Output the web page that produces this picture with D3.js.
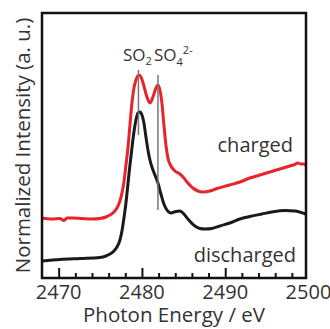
<!DOCTYPE html>
<html>
<head>
<meta charset="utf-8">
<script src="https://cdn.jsdelivr.net/npm/d3@7"></script>
<style>
  html, body { margin: 0; padding: 0; background: #fff; }
  text { font-family: "Open Sans", "Liberation Sans", sans-serif; fill: #333; }
</style>
</head>
<body>
<div id="chart"></div>
<script>
// Charged spectrum (photon energy eV, normalized intensity with offset)
const chargedEnergy = [2468.0, 2469.2, 2470.16, 2470.64, 2471.0, 2471.6, 2472.8, 2474.0, 2474.96, 2475.68,
  2476.16, 2476.64, 2477.0, 2477.36, 2477.6, 2477.84, 2478.08, 2478.32, 2478.56, 2478.8,
  2479.04, 2479.28, 2479.64, 2479.88, 2480.24, 2480.6, 2480.96, 2481.32, 2481.68, 2481.92,
  2482.16, 2482.4, 2482.64, 2482.88, 2483.12, 2483.48, 2483.96, 2484.56, 2485.04, 2485.52,
  2486.12, 2486.72, 2487.32, 2488.16, 2489.0, 2490.56, 2491.76, 2492.96, 2494.16, 2495.36,
  2496.56, 2497.76, 2498.36, 2498.72, 2499.08, 2499.44, 2499.68];
const chargedIntensity = [0.60, 0.59, 0.595, 0.575, 0.60, 0.60, 0.595, 0.59, 0.595, 0.61,
  0.63, 0.66, 0.70, 0.77, 0.85, 0.96, 1.13, 1.30, 1.53, 1.75,
  1.90, 1.98, 2.03, 2.01, 1.92, 1.81, 1.75, 1.81, 1.90, 1.93,
  1.88, 1.75, 1.53, 1.33, 1.20, 1.12, 1.07, 1.04, 1.00, 0.95,
  0.90, 0.87, 0.86, 0.87, 0.895, 0.93, 0.96, 1.00, 1.03, 1.06,
  1.09, 1.12, 1.135, 1.15, 1.14, 1.14, 1.125];

// Discharged spectrum
const dischargedEnergy = [2468.0, 2470.16, 2472.56, 2474.96, 2475.68, 2476.16, 2476.64, 2477.0, 2477.36, 2477.6,
  2477.84, 2478.08, 2478.32, 2478.56, 2478.8, 2479.04, 2479.28, 2479.52, 2479.76, 2480.0,
  2480.24, 2480.48, 2480.72, 2480.96, 2481.2, 2481.56, 2481.92, 2482.28, 2482.64, 2483.0,
  2483.48, 2484.08, 2484.56, 2485.04, 2485.52, 2486.36, 2486.96, 2487.56, 2488.4, 2489.36,
  2490.56, 2491.76, 2492.96, 2494.4, 2495.6, 2497.16, 2498.36, 2499.68];
const dischargedIntensity = [0.17, 0.185, 0.195, 0.205, 0.22, 0.24, 0.27, 0.31, 0.38, 0.47,
  0.60, 0.75, 0.94, 1.13, 1.30, 1.46, 1.58, 1.65, 1.66, 1.63,
  1.55, 1.41, 1.28, 1.18, 1.11, 1.03, 0.95, 0.84, 0.74, 0.68,
  0.65, 0.665, 0.67, 0.64, 0.59, 0.52, 0.495, 0.49, 0.495, 0.52,
  0.55, 0.59, 0.615, 0.64, 0.66, 0.675, 0.67, 0.64];

// Peak markers: SO2 and SO4 2-
const markerEnergy = [2479.58, 2481.92];
const markerTop = [2.08, 2.03];
const markerBottom = [1.43, 0.68];

const xTicksMajor = [2470, 2480, 2490, 2500];
const xTicksMinor = [2472, 2474, 2476, 2478, 2482, 2484, 2486, 2488, 2492, 2494, 2496, 2498];

const W = 330, H = 329;
const margin = { left: 42, right: 306, top: 13, bottom: 278 };

const svg = d3.select("#chart").append("svg")
    .attr("width", W)
    .attr("height", H);

const x = d3.scaleLinear().domain([2468, 2499.7]).range([margin.left, margin.right]);
const y = d3.scaleLinear().domain([0, 2.65]).range([margin.bottom, margin.top]);

const line = d3.line()
    .x(d => x(d[0]))
    .y(d => y(d[1]))
    .curve(d3.curveMonotoneX);

const charged = chargedEnergy.map((e, i) => [e, chargedIntensity[i]]);
const discharged = dischargedEnergy.map((e, i) => [e, dischargedIntensity[i]]);

svg.append("path")
    .datum(charged)
    .attr("fill", "none")
    .attr("stroke", "#e8232b")
    .attr("stroke-width", 3)
    .attr("d", line);

svg.append("path")
    .datum(discharged)
    .attr("fill", "none")
    .attr("stroke", "#1a1a1a")
    .attr("stroke-width", 3)
    .attr("d", line);

// gray marker lines
svg.selectAll(".marker")
    .data(markerEnergy)
    .enter()
    .append("line")
    .attr("x1", d => x(d))
    .attr("x2", d => x(d))
    .attr("y1", (d, i) => y(markerTop[i]))
    .attr("y2", (d, i) => y(markerBottom[i]))
    .attr("stroke", "#777")
    .attr("stroke-width", 1.5);

// bottom ticks, pointing inward
const xAxis = svg.append("g")
    .attr("transform", `translate(0,${margin.bottom})`);
xAxis.call(d3.axisTop(x).tickValues(xTicksMajor.slice(0, 3)).tickSize(10).tickFormat(""));
xAxis.append("g")
    .call(d3.axisTop(x).tickValues(xTicksMinor).tickSize(5).tickFormat(""));
xAxis.selectAll(".domain").remove();
xAxis.selectAll(".tick line").attr("stroke", "#111").attr("stroke-width", 2);

// tick labels
svg.selectAll(".xlabel")
    .data(xTicksMajor)
    .enter()
    .append("text")
    .attr("x", d => x(d))
    .attr("y", 299)
    .attr("text-anchor", "middle")
    .style("font-size", "20px")
    .text(d => d);

// frame
svg.append("rect")
    .attr("x", margin.left)
    .attr("y", margin.top)
    .attr("width", margin.right - margin.left)
    .attr("height", margin.bottom - margin.top)
    .attr("fill", "none")
    .attr("stroke", "#111")
    .attr("stroke-width", 2.5);

// axis titles
svg.append("text")
    .attr("x", (margin.left + margin.right) / 2)
    .attr("y", 322)
    .attr("text-anchor", "middle")
    .style("font-size", "20.5px")
    .text("Photon Energy / eV");

svg.append("text")
    .attr("transform", `translate(30,${(margin.top + margin.bottom) / 2}) rotate(-90)`)
    .attr("text-anchor", "middle")
    .style("font-size", "20.5px")
    .text("Normalized Intensity (a. u.)");

// curve labels
svg.append("text")
    .attr("x", 293)
    .attr("y", 152)
    .attr("text-anchor", "end")
    .style("font-size", "20px")
    .text("charged");

svg.append("text")
    .attr("x", 296)
    .attr("y", 262)
    .attr("text-anchor", "end")
    .style("font-size", "20px")
    .text("discharged");

// peak labels
const so2 = svg.append("text")
    .attr("x", 123)
    .attr("y", 61)
    .style("font-size", "17px");
so2.append("tspan").text("SO");
so2.append("tspan").attr("dy", 4).style("font-size", "11px").text("2");

const so4 = svg.append("text")
    .attr("x", 154)
    .attr("y", 61)
    .style("font-size", "17px");
so4.append("tspan").text("SO");
so4.append("tspan").attr("dy", 5).style("font-size", "11px").text("4");
so4.append("tspan").attr("dy", -12).style("font-size", "11px").text("2-");
</script>
</body>
</html>
